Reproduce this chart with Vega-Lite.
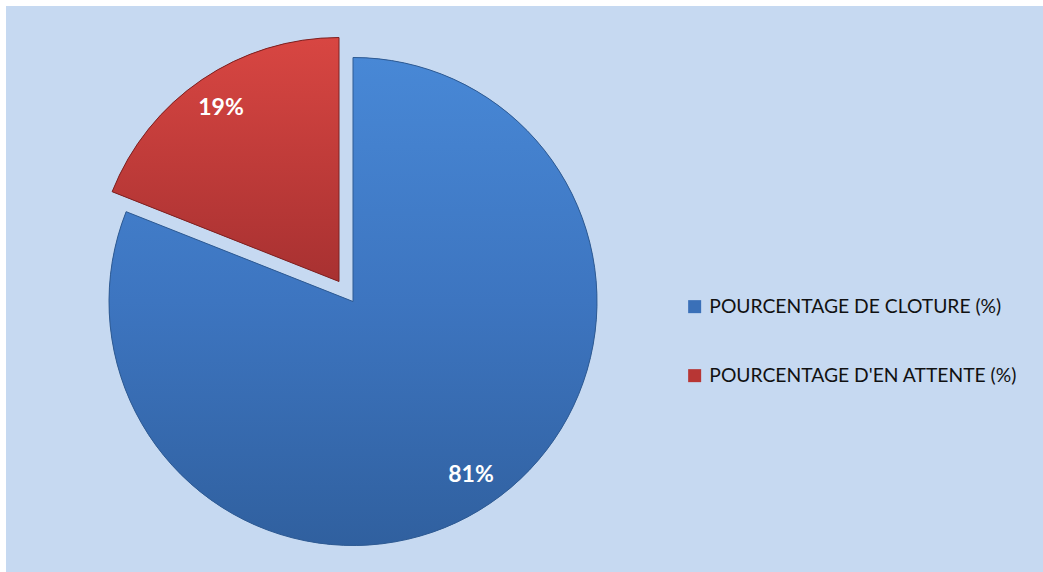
{
  "$schema": "https://vega.github.io/schema/vega-lite/v6.json",
  "width": 1037,
  "height": 566,
  "autosize": {"type": "none"},
  "padding": {"left": 6, "top": 6, "right": 0, "bottom": 0},
  "background": "white",
  "view": {"fill": "#c6d9f1", "stroke": null},
  "data": {
    "values": [
      {"cat": "POURCENTAGE DE CLOTURE (%)", "value": 81, "label": "81%"},
      {"cat": "POURCENTAGE D'EN ATTENTE (%)", "value": 19, "label": "19%"}
    ]
  },
  "encoding": {
    "theta": {"field": "value", "type": "quantitative", "stack": true, "scale": {"domain": [0, 100]}},
    "order": {"field": "value", "sort": "descending"}
  },
  "layer": [
    {
      "mark": {"type": "arc", "radius": 244, "xOffset": -171.5, "yOffset": 12.5},
      "encoding": {
        "color": {
          "field": "cat",
          "type": "nominal",
          "scale": {
            "domain": ["POURCENTAGE DE CLOTURE (%)", "POURCENTAGE D'EN ATTENTE (%)"],
            "range": ["#3a70b8", "#b83634"]
          },
          "legend": {
            "orient": "none",
            "legendX": 679,
            "legendY": 291,
            "title": null,
            "symbolType": "square",
            "symbolSize": 169,
            "symbolStrokeWidth": 0,
            "labelFont": "Lato",
            "labelFontSize": 19.3,
            "labelColor": "#111111",
            "labelOffset": 5,
            "labelLimit": 0,
            "rowPadding": 49
          }
        },
        "opacity": {"condition": {"test": "datum.value > 50", "value": 1}, "value": 0}
      }
    },
    {
      "mark": {"type": "arc", "radius": 244, "xOffset": -185.5, "yOffset": -7.5},
      "encoding": {
        "color": {"field": "cat", "type": "nominal"},
        "opacity": {"condition": {"test": "datum.value < 50", "value": 1}, "value": 0}
      }
    },
    {
      "mark": {
        "type": "arc", "radius": 244, "xOffset": -171.5, "yOffset": 12.5, "stroke": "#2f5b93", "strokeWidth": 1,
        "fill": {"gradient": "linear", "x1": 0, "y1": 0, "x2": 0, "y2": 1, "stops": [{"offset": 0, "color": "#4888d6"}, {"offset": 0.5, "color": "#3d75c0"}, {"offset": 1, "color": "#30609f"}]}
      },
      "encoding": {
        "opacity": {"condition": {"test": "datum.value > 50", "value": 1}, "value": 0}
      }
    },
    {
      "mark": {
        "type": "arc", "radius": 244, "xOffset": -185.5, "yOffset": -7.5, "stroke": "#7d2222", "strokeWidth": 1,
        "fill": {"gradient": "linear", "x1": 0, "y1": 0, "x2": 0, "y2": 1, "stops": [{"offset": 0, "color": "#d84642"}, {"offset": 1, "color": "#a83131"}]}
      },
      "encoding": {
        "opacity": {"condition": {"test": "datum.value < 50", "value": 1}, "value": 0}
      }
    },
    {
      "mark": {"type": "text", "radius": 210, "xOffset": -171.5, "yOffset": 12.5, "font": "Lato", "fontWeight": "bold", "fontSize": 23, "fill": "white", "align": "center", "baseline": "middle"},
      "encoding": {
        "text": {"field": "label"},
        "opacity": {"condition": {"test": "datum.value > 50", "value": 1}, "value": 0}
      }
    },
    {
      "mark": {"type": "text", "radius": 210, "xOffset": -185.5, "yOffset": -7.5, "font": "Lato", "fontWeight": "bold", "fontSize": 23, "fill": "white", "align": "center", "baseline": "middle"},
      "encoding": {
        "text": {"field": "label"},
        "opacity": {"condition": {"test": "datum.value < 50", "value": 1}, "value": 0}
      }
    }
  ]
}
